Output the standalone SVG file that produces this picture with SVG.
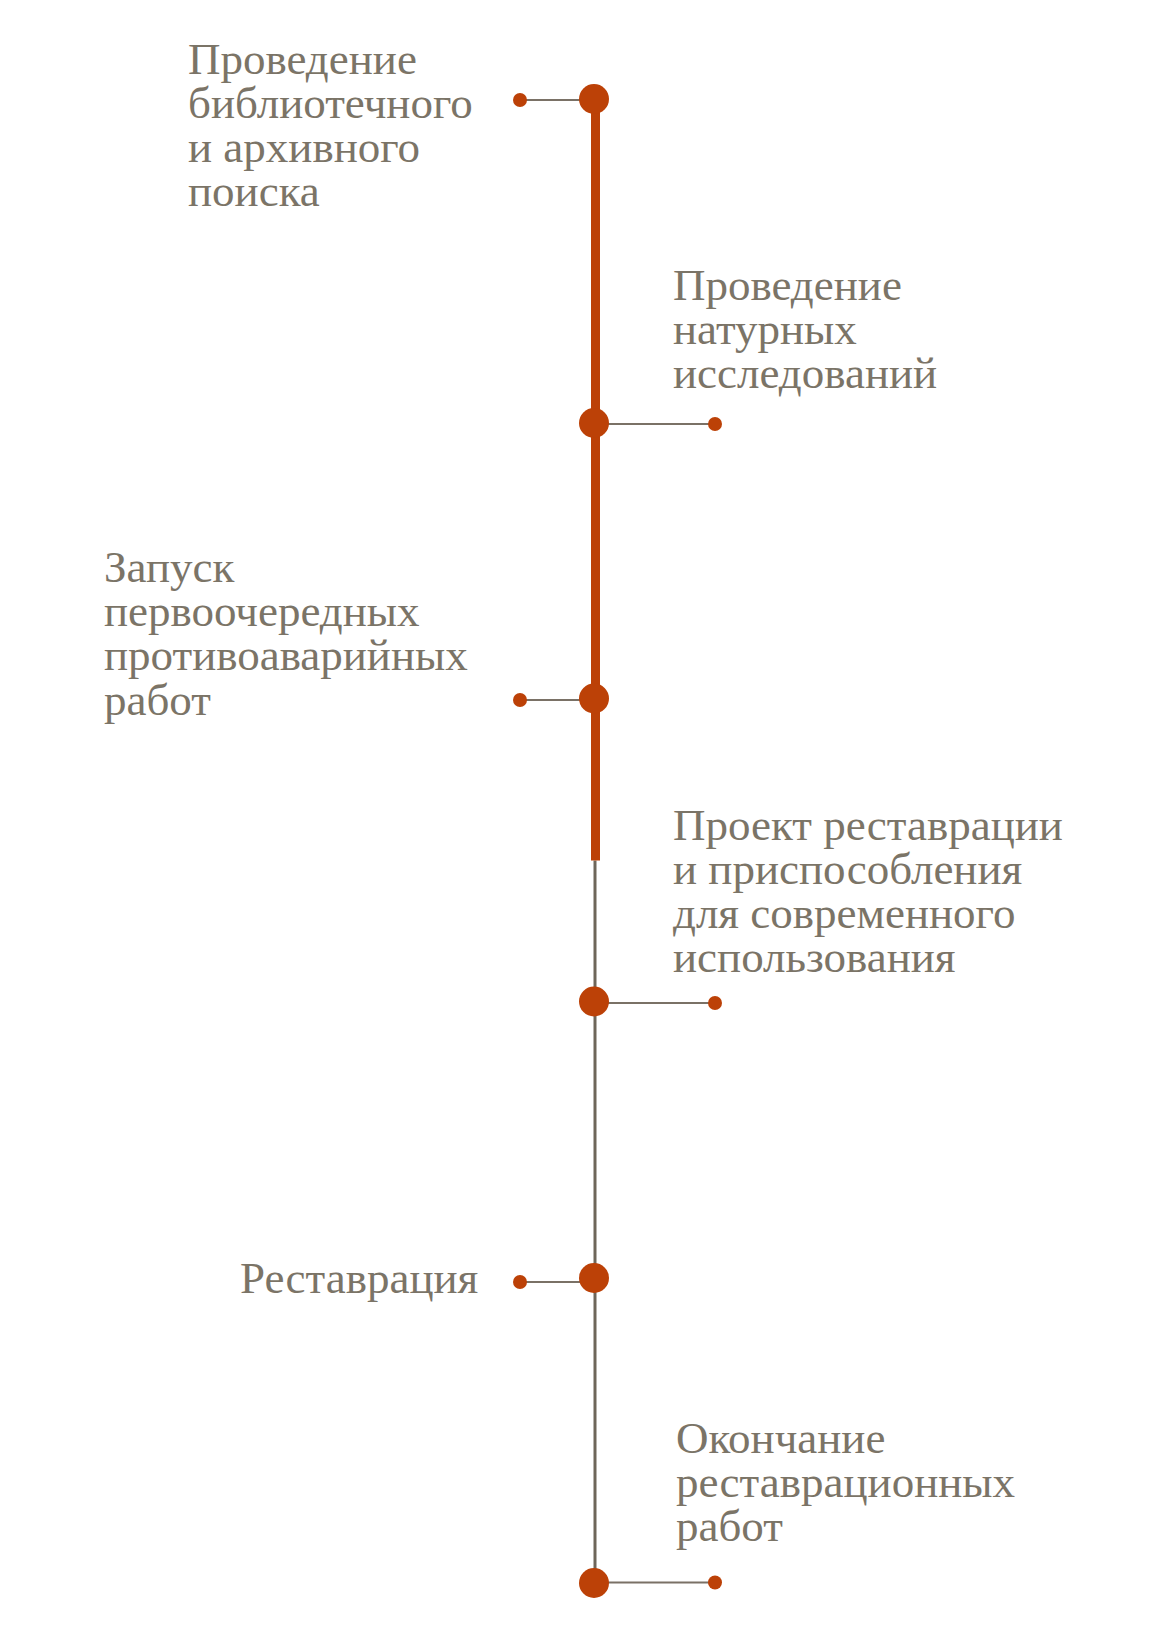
<svg xmlns="http://www.w3.org/2000/svg" width="1170" height="1635" viewBox="0 0 1170 1635">
<style>
.lbl{font-family:"Liberation Serif","Times New Roman",serif;font-size:45px;fill:#7b7467}
.big{fill:#bc4107}
.dot{fill:#bc4107}
.tick{stroke:#7a7166;stroke-width:2;fill:none}
</style>
<rect width="1170" height="1635" fill="#ffffff"/>
<g id="connectors">
<line x1="595" y1="860.5" x2="595" y2="1583" stroke="#6e665a" stroke-width="3"/>
<line x1="595.5" y1="99" x2="595.5" y2="860.5" stroke="#bc4107" stroke-width="9"/>
<line class="tick" x1="520" y1="100" x2="594" y2="100"/>
<line class="tick" x1="594" y1="424" x2="715" y2="424"/>
<line class="tick" x1="520" y1="700" x2="594" y2="700"/>
<line class="tick" x1="594" y1="1003" x2="715" y2="1003"/>
<line class="tick" x1="520" y1="1282" x2="594" y2="1282"/>
<line class="tick" x1="594" y1="1582.5" x2="715" y2="1582.5"/>
</g>
<g id="node1">
<circle class="big" cx="594" cy="99" r="15"/>
<circle class="dot" cx="520" cy="100" r="7"/>
<text class="lbl" x="188" y="74">Проведение</text>
<text class="lbl" x="188" y="118">библиотечного</text>
<text class="lbl" x="188" y="162">и архивного</text>
<text class="lbl" x="188" y="206">поиска</text>
</g>
<g id="node2">
<circle class="big" cx="594" cy="423" r="15"/>
<circle class="dot" cx="715" cy="424" r="7"/>
<text class="lbl" x="673" y="300">Проведение</text>
<text class="lbl" x="673" y="344">натурных</text>
<text class="lbl" x="673" y="388">исследований</text>
</g>
<g id="node3">
<circle class="big" cx="594" cy="698.5" r="15"/>
<circle class="dot" cx="520" cy="700" r="7"/>
<text class="lbl" x="104" y="582">Запуск</text>
<text class="lbl" x="104" y="626">первоочередных</text>
<text class="lbl" x="104" y="670">противоаварийных</text>
<text class="lbl" x="104" y="715">работ</text>
</g>
<g id="node4">
<circle class="big" cx="594" cy="1001.5" r="15"/>
<circle class="dot" cx="715" cy="1003" r="7"/>
<text class="lbl" x="673" y="840">Проект реставрации</text>
<text class="lbl" x="673" y="884">и приспособления</text>
<text class="lbl" x="673" y="928">для современного</text>
<text class="lbl" x="673" y="972">использования</text>
</g>
<g id="node5">
<circle class="big" cx="594" cy="1278" r="15"/>
<circle class="dot" cx="520" cy="1282" r="7"/>
<text class="lbl" x="240" y="1293">Реставрация</text>
</g>
<g id="node6">
<circle class="big" cx="594" cy="1583" r="15"/>
<circle class="dot" cx="715" cy="1582.5" r="7"/>
<text class="lbl" x="676" y="1453">Окончание</text>
<text class="lbl" x="676" y="1497">реставрационных</text>
<text class="lbl" x="676" y="1541">работ</text>
</g>
</svg>
